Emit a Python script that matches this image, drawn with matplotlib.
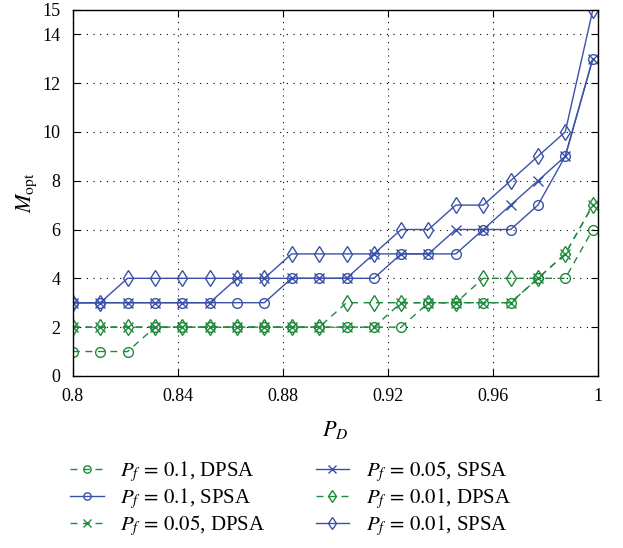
import numpy as np
import matplotlib
matplotlib.use("Agg")
import matplotlib.pyplot as plt

plt.rcParams['font.family'] = ['Liberation Serif', 'DejaVu Serif']
plt.rcParams['mathtext.fontset'] = 'stix'

# detection probability grid
pd_vals = [0.8, 0.8104, 0.8208, 0.8313, 0.8417, 0.8521, 0.8625, 0.8729, 0.8833, 0.8938,
           0.9042, 0.9146, 0.925, 0.9354, 0.9458, 0.9563, 0.9667, 0.9771, 0.9875, 0.998]

m_01_dpsa = [1, 1, 1, 2, 2, 2, 2, 2, 2, 2, 2, 2, 2, 3, 3, 3, 3, 4, 4, 6]
m_01_spsa = [3, 3, 3, 3, 3, 3, 3, 3, 4, 4, 4, 4, 5, 5, 5, 6, 6, 7, 9, 13]
m_005_dpsa = [2, 2, 2, 2, 2, 2, 2, 2, 2, 2, 2, 2, 3, 3, 3, 3, 3, 4, 5, 7]
m_005_spsa = [3, 3, 3, 3, 3, 3, 4, 4, 4, 4, 4, 5, 5, 5, 6, 6, 7, 8, 9, 13]
m_001_dpsa = [2, 2, 2, 2, 2, 2, 2, 2, 2, 2, 3, 3, 3, 3, 3, 4, 4, 4, 5, 7]
m_001_spsa = [3, 3, 4, 4, 4, 4, 4, 4, 5, 5, 5, 5, 6, 6, 7, 7, 8, 9, 10, 15]

labels = [r'$P_f\,=\,0.1$, DPSA', r'$P_f\,=\,0.1$, SPSA', r'$P_f\,=\,0.05$, DPSA',
          r'$P_f\,=\,0.05$, SPSA', r'$P_f\,=\,0.01$, DPSA', r'$P_f\,=\,0.01$, SPSA']

blue = '#3a51a8'
green = '#1e8a3c'

fig = plt.figure(figsize=(6.23, 5.48), dpi=100)
ax = fig.add_axes([0.117, 0.314, 0.843, 0.668])

series = [
    (m_01_dpsa, green, '--', 'o', 7),
    (m_01_spsa, blue, '-', 'o', 7),
    (m_005_dpsa, green, '--', 'x', 7),
    (m_005_spsa, blue, '-', 'x', 7),
    (m_001_dpsa, green, '--', 'd', 8),
    (m_001_spsa, blue, '-', 'd', 8),
]
for (y, c, ls, mk, ms), lab in zip(series, labels):
    ax.plot(pd_vals, y, color=c, linestyle=ls, marker=mk, markersize=ms,
            markerfacecolor='none', markeredgecolor=c, linewidth=1.0,
            dashes=(5, 4) if ls == '--' else (None, None), label=lab)

ax.set_xlim(0.8, 1.0)
ax.set_ylim(0, 15)
ax.set_xticks([0.8, 0.84, 0.88, 0.92, 0.96, 1.0])
ax.set_xticklabels(['0.8', '0.84', '0.88', '0.92', '0.96', '1'])
ax.set_yticks([0, 2, 4, 6, 8, 10, 12, 14, 15])
ax.tick_params(direction='in', top=True, right=True, labelsize=13, length=5)
ax.tick_params(axis='x', pad=9)
ax.tick_params(axis='y', pad=9)
ax.grid(True, linestyle=(0, (1, 5)), color='black', linewidth=0.8)
for s in ax.spines.values():
    s.set_linewidth(1.0)

ax.set_xlabel(r'$P_D$', fontsize=16, labelpad=10)
ax.set_ylabel(r'$M_{\mathrm{opt}}$', fontsize=16, labelpad=2)

ax.legend(loc='upper left', bbox_to_anchor=(-0.005, -0.228), ncol=2, frameon=False,
          fontsize=15, handlelength=1.6, columnspacing=2.4, labelspacing=0.1,
          handletextpad=0.8, borderaxespad=0, borderpad=0, markerscale=0.75)

fig.savefig('out.png', dpi=100)
